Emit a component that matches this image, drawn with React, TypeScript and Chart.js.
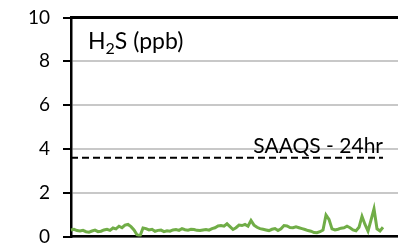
import React, { useEffect, useRef } from "react";
import { Chart, registerables } from "chart.js";

Chart.register(...registerables);

// H2S concentration (ppb)
const h2sValues: number[] = [
  0.30, 0.33, 0.27, 0.25, 0.28, 0.22, 0.20, 0.25, 0.29, 0.22,
  0.24, 0.30, 0.33, 0.28, 0.39, 0.35, 0.47, 0.40, 0.52, 0.55,
  0.45, 0.30, 0.08, 0.02, 0.39, 0.36, 0.30, 0.33, 0.24, 0.28,
  0.29, 0.22, 0.26, 0.24, 0.30, 0.32, 0.28, 0.36, 0.31, 0.29,
  0.33, 0.32, 0.28, 0.27, 0.30, 0.32, 0.29, 0.36, 0.40, 0.48,
  0.50, 0.47, 0.58, 0.45, 0.32, 0.40, 0.52, 0.50, 0.55, 0.47,
  0.73, 0.52, 0.42, 0.36, 0.33, 0.30, 0.27, 0.33, 0.36, 0.27,
  0.35, 0.50, 0.48, 0.41, 0.40, 0.44, 0.40, 0.36, 0.32, 0.27,
  0.24, 0.18, 0.17, 0.22, 0.30, 0.98, 0.78, 0.35, 0.30, 0.33,
  0.38, 0.40, 0.47, 0.40, 0.30, 0.26, 0.42, 0.92, 0.55, 0.25,
  0.75, 1.26, 0.35, 0.25, 0.42,
];

// Standard limit
const SAAQS_24HR = 3.6;
const saaqsLabel = "SAAQS - 24hr";

// Category slots (axis extends beyond last measurement)
const categories: string[] = Array.from({ length: 110 }, (_, i) => String(i + 1));

const yTicks = { min: 0, max: 10, step: 2 };

const FONT = "Lato";

export default function App() {
  const ref = useRef<HTMLCanvasElement | null>(null);

  useEffect(() => {
    document.body.style.margin = "0";
    document.body.style.overflow = "hidden";
    const canvas = ref.current;
    if (!canvas) return;

    const titlePlugin = {
      id: "titleText",
      afterDraw(chart: any) {
        const ctx = chart.ctx;
        const area = chart.chartArea;
        ctx.save();
        ctx.fillStyle = "#000";
        ctx.textBaseline = "alphabetic";
        ctx.textAlign = "left";
        let x = area.left + 17;
        const base = area.top + 31;
        ctx.font = `23px ${FONT}`;
        ctx.fillText("H", x, base);
        x += ctx.measureText("H").width;
        ctx.font = `16px ${FONT}`;
        ctx.fillText("2", x, base + 5);
        x += ctx.measureText("2").width;
        ctx.font = `23px ${FONT}`;
        ctx.fillText("S (ppb)", x, base);

        // limit label
        const xs = chart.scales.x;
        const ys = chart.scales.y;
        const lx = xs.getPixelForValue(h2sValues.length - 1);
        const ly = ys.getPixelForValue(SAAQS_24HR);
        ctx.textAlign = "right";
        ctx.font = `21px ${FONT}`;
        ctx.fillText(saaqsLabel, lx, ly - 5);
        ctx.restore();
      },
    };

    const chart = new Chart(canvas, {
      type: "line",
      data: {
        labels: categories,
        datasets: [
          {
            data: h2sValues,
            borderColor: "#70ad47",
            borderWidth: 3,
            pointRadius: 0,
            tension: 0,
          },
          {
            data: h2sValues.map(() => SAAQS_24HR),
            borderColor: "#000",
            borderWidth: 2,
            borderDash: [7, 4],
            pointRadius: 0,
          },
        ],
      },
      options: {
        responsive: false,
        animation: false,
        layout: { padding: 0 },
        plugins: {
          legend: { display: false },
          tooltip: { enabled: false },
          title: { display: false },
        },
        scales: {
          x: {
            type: "category",
            offset: false,
            grid: { display: false },
            ticks: { display: false },
            border: { display: true, color: "#000", width: 2.5 },
            afterFit: (s: any) => {
              s.height = 0;
            },
          },
          x2: {
            type: "category",
            position: "top",
            offset: false,
            grid: { display: false },
            ticks: { display: false },
            border: { display: true, color: "#000", width: 3 },
            afterFit: (s: any) => {
              s.height = 0;
            },
          },
          y: {
            min: yTicks.min,
            max: yTicks.max,
            ticks: {
              stepSize: yTicks.step,
              color: "#000",
              padding: 13,
              font: { family: FONT, size: 19, lineHeight: 1 },
            },
            grid: {
              color: "rgb(200,200,200)",
              lineWidth: 2,
              tickColor: "#000",
              tickWidth: 2,
              tickLength: 8,
            },
            border: { display: true, color: "#000", width: 2.5 },
            afterFit: (s: any) => {
              s.width = 71;
            },
          },
        },
      },
      plugins: [titlePlugin],
    });

    return () => chart.destroy();
  }, []);

  return (
    <canvas
      ref={ref}
      width={398}
      height={264}
      style={{ display: "block", marginTop: -5 }}
    />
  );
}
